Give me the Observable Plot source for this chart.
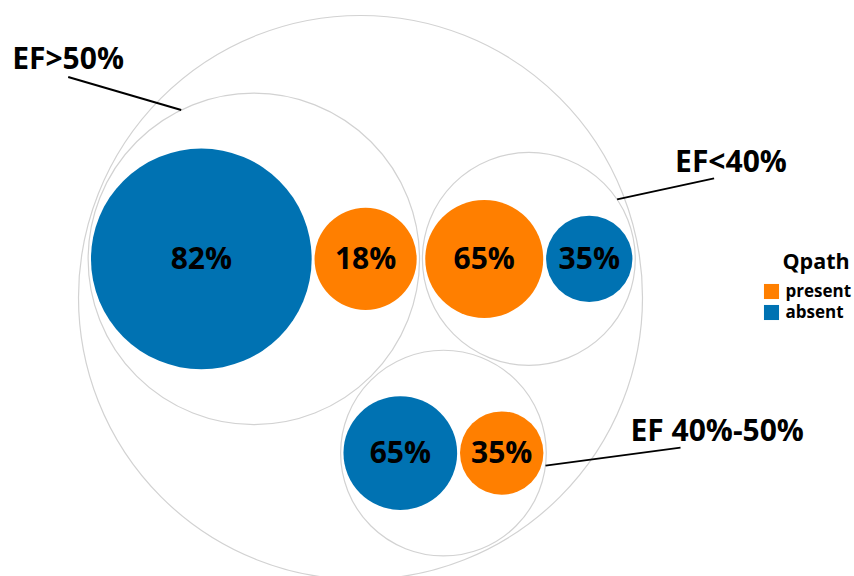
<!DOCTYPE html>
<html>
<head>
<meta charset="utf-8">
<script src="https://cdn.jsdelivr.net/npm/d3@7"></script>
<script src="https://cdn.jsdelivr.net/npm/@observablehq/plot@0.6"></script>
<style>
  html, body { margin: 0; padding: 0; background: #fff; }
  #chart svg { display: block; }
</style>
</head>
<body>
<div id="chart"></div>
<script>
// ---- data ----
const groups = ["EF>50%", "EF<40%", "EF 40%-50%"];
const qpathLevels = ["present", "absent"];
// group sizes estimated from circle areas
const presentCounts = [21, 28, 14];
const absentCounts = [98, 15, 26];
const presentLabels = ["18%", "65%", "35%"];
const absentLabels = ["82%", "35%", "65%"];
const legendTitle = "Qpath";

// ---- layout / style (not data) ----
const W = 854, H = 576;
const packDiameter = 564;
const packOrigin = [78, 15];
const colors = ["#ff7f00", "#0072b2"];
const font = "'Open Sans', 'Noto Sans', sans-serif";
// callouts: angle on group circle (deg), line vector, text offset from line end
const callouts = [
  {angle: -116, line: [-113, -33], text: [-56, -8]},
  {angle: -34, line: [97, -21], text: [-39, -6]},
  {angle: 7, line: [135, -18], text: [-50, -7]}
];

// ---- hierarchy ----
const tree = {
  name: "root",
  children: groups.map((g, i) => ({
    name: g,
    children: [
      {name: g + " present", qpath: "present", value: presentCounts[i], label: presentLabels[i]},
      {name: g + " absent", qpath: "absent", value: absentCounts[i], label: absentLabels[i]}
    ]
  }))
};
const root = d3.hierarchy(tree)
  .sum(d => d.value || 0)
  .sort((a, b) => b.value - a.value);
d3.pack().size([packDiameter, packDiameter]).padding(3)(root);
const nodes = root.descendants().map(n => ({
  x: n.x + packOrigin[0], y: n.y + packOrigin[1], r: n.r,
  depth: n.depth, name: n.data.name, qpath: n.data.qpath, label: n.data.label
}));
const containers = nodes.filter(n => n.depth < 2);
const leaves = nodes.filter(n => n.depth === 2);

const calloutData = groups.map((g, i) => {
  const n = nodes.find(d => d.depth === 1 && d.name === g);
  const c = callouts[i];
  const a = c.angle * Math.PI / 180;
  const x1 = n.x + n.r * Math.cos(a), y1 = n.y + n.r * Math.sin(a);
  const x2 = x1 + c.line[0], y2 = y1 + c.line[1];
  return {name: g, x1, y1, x2, y2, tx: x2 + c.text[0], ty: y2 + c.text[1]};
});

// legend
const legendX = 771, legendY0 = 291, legendStep = 21;
const legendItems = qpathLevels.map((q, i) => ({q, x: legendX, y: legendY0 + i * legendStep}));

const chart = Plot.plot({
  width: W, height: H,
  margin: 0,
  axis: null,
  x: {domain: [0, W], range: [0, W]},
  y: {domain: [0, H], range: [0, H]},
  r: {type: "identity"},
  color: {domain: qpathLevels, range: colors},
  style: {fontFamily: font, background: "#fff"},
  marks: [
    Plot.dot(containers, {x: "x", y: "y", r: "r", fill: "none", stroke: "#d2d2d2", strokeWidth: 1.2}),
    Plot.dot(leaves, {x: "x", y: "y", r: "r", fill: "qpath", stroke: "none"}),
    Plot.text(leaves, {x: "x", y: "y", text: "label", fontSize: 30, fontWeight: "bold", fill: "#000"}),
    Plot.link(calloutData, {x1: "x1", y1: "y1", x2: "x2", y2: "y2", stroke: "#000", strokeWidth: 2}),
    Plot.text(calloutData, {x: "tx", y: "ty", text: "name", textAnchor: "start", lineAnchor: "bottom", fontSize: 30, fontWeight: "bold", fill: "#000"}),
    Plot.text([legendTitle], {x: legendX + 11, y: 268, text: d => d, textAnchor: "start", lineAnchor: "bottom", fontSize: 21.5, fontWeight: "bold", fill: "#000"}),
    Plot.dot(legendItems, {x: "x", y: "y", fill: "q", symbol: "square", r: 8.5}),
    Plot.text(legendItems, {x: d => d.x + 14, y: "y", text: "q", textAnchor: "start", fontSize: 17, fontWeight: "bold", fill: "#000"})
  ]
});
document.getElementById("chart").appendChild(chart);
</script>
</body>
</html>
